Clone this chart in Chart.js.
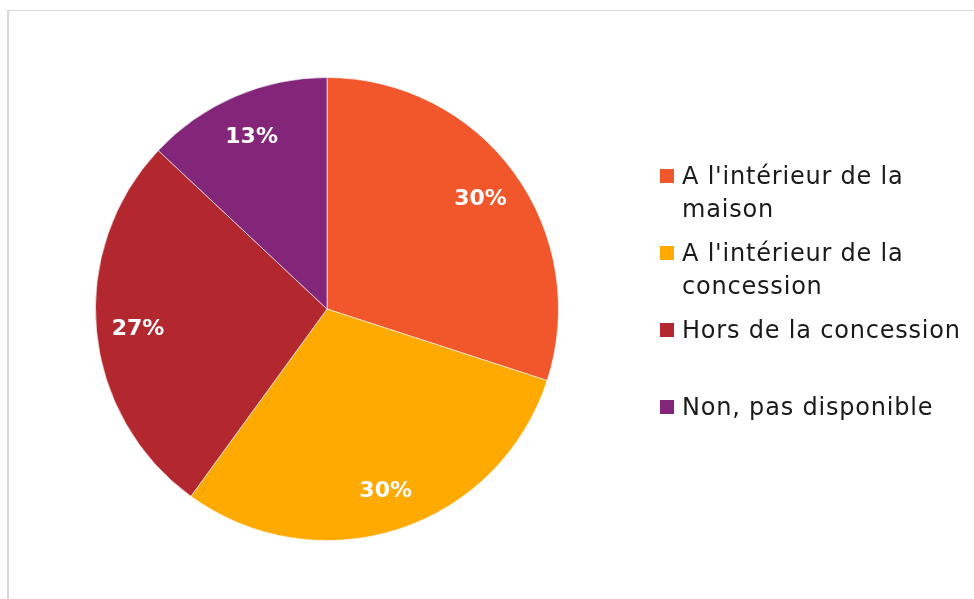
<!DOCTYPE html>
<html>
<head>
<meta charset="utf-8">
<script src="https://cdn.jsdelivr.net/npm/chart.js@4.4.0/dist/chart.umd.min.js"></script>
<style>
  html, body { margin: 0; padding: 0; background: #fff; }
  #wrap { position: relative; width: 974px; height: 599px; overflow: hidden; }
  #frame {
    position: absolute; left: 7px; top: 10px; width: 980px; height: 600px;
    border-top: 1px solid #d9d9d9; border-left: 2px solid #d9d9d9;
  }
  #pieChart1 { position: absolute; left: 0; top: 0; }
  #legend {
    position: absolute; left: 660px; top: 160px; width: 310px;
    font-family: "DejaVu Sans", sans-serif; font-size: 24px; letter-spacing: 0.8px; color: #1a1a1a;
  }
  .item { display: flex; align-items: flex-start; height: 77px; }
  .box { width: 14px; height: 14px; flex: none; margin-top: 9px; margin-right: 8px; }
  .txt { line-height: 33px; width: 295px; }
</style>
</head>
<body>
<div id="wrap">
  <div id="frame"></div>
  <canvas id="pieChart1" width="974" height="599"></canvas>
  <div id="legend"></div>
</div>
<script>
const categories = [
  "A l'intérieur de la maison",
  "A l'intérieur de la concession",
  "Hors de la concession",
  "Non, pas disponible",
];
const shares = [30, 30, 27, 13];
const colors = ["#F2572B", "#FFAA00", "#B2282E", "#83267A"];

// legend in html so long labels can wrap
const legend = document.getElementById("legend");
categories.forEach((name, i) => {
  const item = document.createElement("div");
  item.className = "item";
  item.innerHTML = `<span class="box" style="background:${colors[i]}"></span><span class="txt">${name}</span>`;
  legend.appendChild(item);
});

const sliceLabels = {
  id: "sliceLabels",
  afterDatasetsDraw(chart) {
    const ctx = chart.ctx;
    const meta = chart.getDatasetMeta(0);
    ctx.save();
    ctx.fillStyle = "#ffffff";
    ctx.font = "bold 22px 'DejaVu Sans', sans-serif";
    ctx.textAlign = "center";
    ctx.textBaseline = "middle";
    meta.data.forEach((arc, i) => {
      const p = arc.getProps(["x", "y", "startAngle", "endAngle", "outerRadius"], true);
      const mid = (p.startAngle + p.endAngle) / 2;
      const r = p.outerRadius * 0.82;
      ctx.fillText(shares[i] + "%", p.x + Math.cos(mid) * r, p.y + Math.sin(mid) * r + 2);
    });
    ctx.restore();
  },
};

new Chart(document.getElementById("pieChart1").getContext("2d"), {
  type: "pie",
  data: {
    labels: categories,
    datasets: [
      {
        data: shares,
        backgroundColor: colors,
        borderColor: "rgba(255,255,255,0.6)",
        borderWidth: 1,
      },
    ],
  },
  options: {
    responsive: false,
    animation: false,
    layout: { padding: { top: 77, bottom: 58, left: 95, right: 415 } },
    plugins: {
      legend: { display: false },
      tooltip: { enabled: false },
    },
  },
  plugins: [sliceLabels],
});
</script>
</body>
</html>
